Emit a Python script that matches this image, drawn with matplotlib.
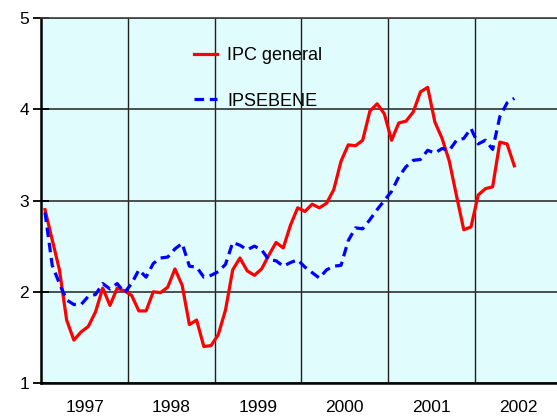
import numpy as np
import matplotlib
matplotlib.use("Agg")
import matplotlib.pyplot as plt

plt.rcParams['font.family'] = ['Liberation Sans', 'DejaVu Sans']

# monthly values, first month of 1997 to mid 2002
ipc_general = [2.90, 2.57, 2.24, 1.69, 1.47, 1.56, 1.62, 1.78, 2.04, 1.85, 2.04, 2.01,
               1.96, 1.79, 1.79, 2.00, 1.99, 2.05, 2.25, 2.07, 1.64, 1.69, 1.40, 1.41,
               1.53, 1.80, 2.24, 2.37, 2.23, 2.18, 2.25, 2.40, 2.54, 2.48, 2.73, 2.92,
               2.88, 2.96, 2.92, 2.97, 3.12, 3.43, 3.61, 3.60, 3.66, 3.98, 4.06, 3.95,
               3.66, 3.85, 3.87, 3.97, 4.19, 4.24, 3.86, 3.68, 3.43, 3.05, 2.68, 2.71,
               3.06, 3.13, 3.15, 3.64, 3.62, 3.38]
ipsebene = [2.87, 2.29, 2.09, 1.91, 1.86, 1.86, 1.95, 1.97, 2.09, 2.03, 2.09, 1.99,
            2.09, 2.24, 2.16, 2.31, 2.37, 2.38, 2.47, 2.53, 2.28, 2.27, 2.16, 2.18,
            2.22, 2.30, 2.54, 2.51, 2.46, 2.50, 2.46, 2.35, 2.34, 2.28, 2.32, 2.35,
            2.27, 2.21, 2.15, 2.24, 2.28, 2.29, 2.56, 2.70, 2.69, 2.79, 2.90, 3.00,
            3.10, 3.26, 3.37, 3.44, 3.45, 3.55, 3.52, 3.57, 3.55, 3.66, 3.68, 3.79,
            3.62, 3.66, 3.56, 3.92, 4.07, 4.12]
years = ['1997', '1998', '1999', '2000', '2001', '2002']

months = np.arange(len(ipc_general)) + 0.5

fig = plt.figure(figsize=(5.57, 4.16), dpi=100)
ax = fig.add_axes([0.0743, 0.0793, 0.9333, 0.8774])
ax.set_facecolor('#E0FCFC')

ax.plot(months, ipc_general, color='#FF0000', linewidth=2.3, label='IPC general')
ax.plot(months, ipsebene, color='#0000FF', linewidth=2.3, linestyle=(0, (3, 1.8)),
        label='IPSEBENE')

ax.set_xlim(0, 12 * len(years))
ax.set_ylim(1, 5)

# year boundaries
for k in range(1, len(years)):
    ax.axvline(12 * k, color='#202020', linewidth=1.0, zorder=0.5)
ax.set_yticks([1, 2, 3, 4, 5])
ax.yaxis.grid(True, color='#303030', linewidth=1.2)
ax.set_axisbelow(True)

ax.set_xticks(12 * np.arange(len(years)) + 6)
ax.set_xticklabels(years)
ax.tick_params(axis='x', length=0, pad=12.5, labelsize=12.5)
ax.tick_params(axis='y', direction='inout', length=12, width=1.3, pad=3, labelsize=12.5)

for side in ['left', 'bottom']:
    ax.spines[side].set_linewidth(1.8)
    ax.spines[side].set_color('black')
ax.spines['top'].set_color('#404040')
ax.spines['top'].set_linewidth(1.2)
ax.spines['right'].set_visible(False)

ax.legend(loc='upper left', bbox_to_anchor=(0.2936, 0.921), frameon=False,
          borderpad=0, borderaxespad=0, handlelength=1.25, handletextpad=0.6,
          labelspacing=1.6, fontsize=13)

fig.savefig('out.png', dpi=100)
